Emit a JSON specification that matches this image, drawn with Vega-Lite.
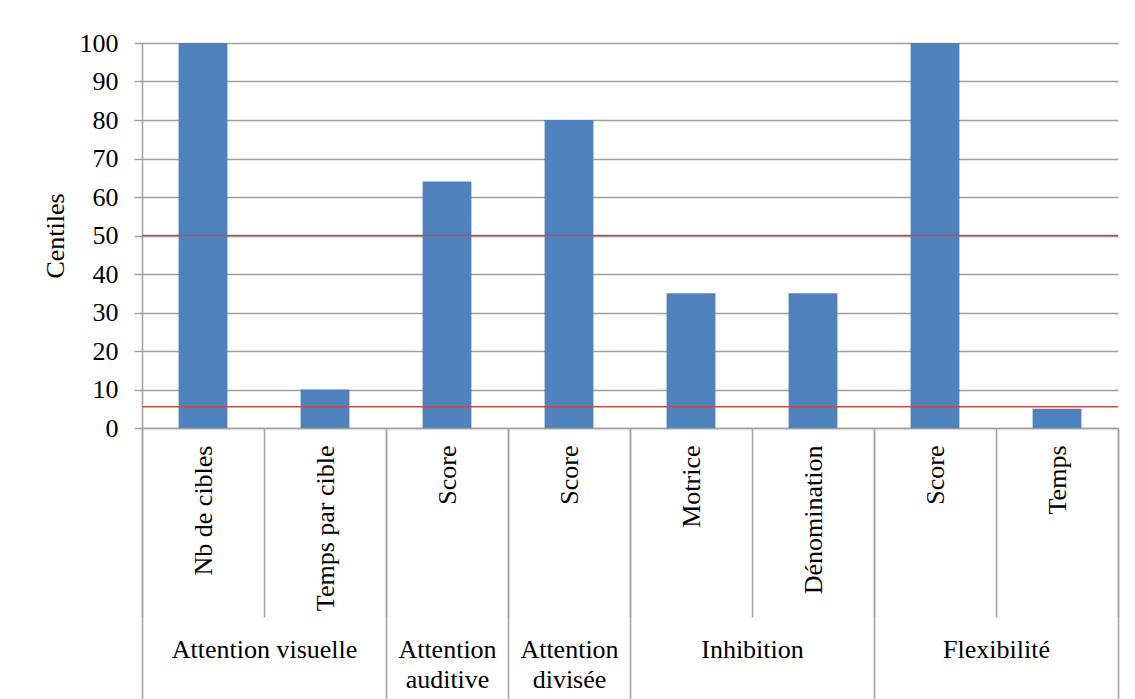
{
  "$schema": "https://vega.github.io/schema/vega-lite/v6.json",
  "width": 976,
  "height": 385,
  "autosize": {"type": "none"},
  "padding": {"left": 142, "top": 43, "right": 17, "bottom": 271},
  "background": "white",
  "config": {
    "view": {"stroke": null},
    "font": "Liberation Serif",
    "axisY": {"tickCount": 20, "values": [0, 10, 20, 30, 40, 50, 60, 70, 80, 90, 100]}
  },
  "datasets": {
    "scores": [
      {"key": "Attention visuelle|Nb de cibles", "group": "Attention visuelle", "sub": "Nb de cibles", "value": 100},
      {"key": "Attention visuelle|Temps par cible", "group": "Attention visuelle", "sub": "Temps par cible", "value": 10},
      {"key": "Attention auditive|Score", "group": "Attention auditive", "sub": "Score", "value": 64},
      {"key": "Attention divisée|Score", "group": "Attention divisée", "sub": "Score", "value": 80},
      {"key": "Inhibition|Motrice", "group": "Inhibition", "sub": "Motrice", "value": 35},
      {"key": "Inhibition|Dénomination", "group": "Inhibition", "sub": "Dénomination", "value": 35},
      {"key": "Flexibilité|Score", "group": "Flexibilité", "sub": "Score", "value": 100},
      {"key": "Flexibilité|Temps", "group": "Flexibilité", "sub": "Temps", "value": 5}
    ],
    "seuils": [{"seuil": 50}, {"seuil": 5.5}]
  },
  "resolve": {"axis": {"x": "independent"}},
  "layer": [
    {
      "data": {"name": "scores"},
      "mark": {"type": "bar", "color": "#4F81BD", "width": {"band": 0.4}},
      "encoding": {
        "x": {
          "field": "key", "type": "nominal", "sort": null,
          "scale": {"paddingInner": 0, "paddingOuter": 0},
          "axis": {
            "orient": "bottom",
            "title": null,
            "labelExpr": "split(datum.value, '|')[1]",
            "labelAngle": 270,
            "labelAlign": "right",
            "labelBaseline": "middle",
            "labelFont": "Liberation Serif",
            "labelFontSize": 26,
            "labelColor": "black",
            "labelLimit": 400,
            "labelOverlap": false,
            "labelPadding": -172,
            "tickBand": "extent",
            "tickSize": 189,
            "tickColor": "#A0A0A0",
            "tickWidth": 1.5,
            "domainColor": "#A0A0A0",
            "domainWidth": 1.5,
            "grid": false
          }
        },
        "y": {
          "field": "value", "type": "quantitative",
          "scale": {"domain": [0, 100], "nice": false},
          "axis": {
            "title": "Centiles",
            "values": [0, 10, 20, 30, 40, 50, 60, 70, 80, 90, 100],
            "tickCount": 20,
            "labelOverlap": false,
            "grid": true,
            "gridColor": "#A0A0A0",
            "gridWidth": 1.5,
            "tickSize": 8,
            "tickColor": "#A0A0A0",
            "tickWidth": 1.5,
            "domainColor": "#A0A0A0",
            "domainWidth": 1.5,
            "labelFont": "Liberation Serif",
            "labelFontSize": 26,
            "labelColor": "black",
            "labelPadding": 16,
            "titleFont": "Liberation Serif",
            "titleFontSize": 26,
            "titleFontWeight": "normal",
            "titleColor": "black",
            "titlePadding": 11
          }
        }
      }
    },
    {
      "data": {"name": "seuils"},
      "mark": {"type": "rule", "color": "#C0504D", "strokeWidth": 1.5},
      "encoding": {
        "y": {
          "field": "seuil", "type": "quantitative",
          "scale": {"domain": [0, 100], "nice": false},
          "axis": {
            "title": "Centiles",
            "values": [0, 10, 20, 30, 40, 50, 60, 70, 80, 90, 100],
            "tickCount": 20,
            "labelOverlap": false
          }
        }
      }
    },
    {
      "data": {"name": "scores"},
      "mark": {"type": "tick", "opacity": 0},
      "encoding": {
        "x": {
          "field": "key", "type": "nominal", "sort": null,
          "scale": {"paddingInner": 0, "paddingOuter": 0},
          "axis": {
            "orient": "bottom",
            "title": null,
            "domain": false,
            "grid": false,
            "labelExpr": "indexof(['Attention visuelle|Nb de cibles', 'Inhibition|Motrice', 'Flexibilité|Score'], datum.value) >= 0 ? split(datum.value, '|')[0] : (indexof(['Attention auditive|Score', 'Attention divisée|Score'], datum.value) >= 0 ? split(split(datum.value, '|')[0], ' ') : '')",
            "labelAngle": 0,
            "labelAlign": "center",
            "labelBaseline": "alphabetic",
            "labelFont": "Liberation Serif",
            "labelFontSize": 26,
            "labelColor": "black",
            "labelLimit": 400,
            "labelOverlap": false,
            "labelLineHeight": 30,
            "labelPadding": -42,
            "labelOffset": {"condition": {"test": "indexof(['Attention visuelle|Nb de cibles', 'Inhibition|Motrice', 'Flexibilité|Score'], datum.value) >= 0", "value": 61}, "value": 0},
            "tickBand": "extent",
            "tickSize": 271,
            "tickColor": "#A0A0A0",
            "tickWidth": 1.5,
            "tickOpacity": {"condition": {"test": "datum.index < 1 && indexof(['Attention visuelle|Nb de cibles', 'Inhibition|Motrice', 'Flexibilité|Score'], datum.value) >= 0", "value": 0}, "value": 1}
          }
        }
      }
    }
  ]
}
